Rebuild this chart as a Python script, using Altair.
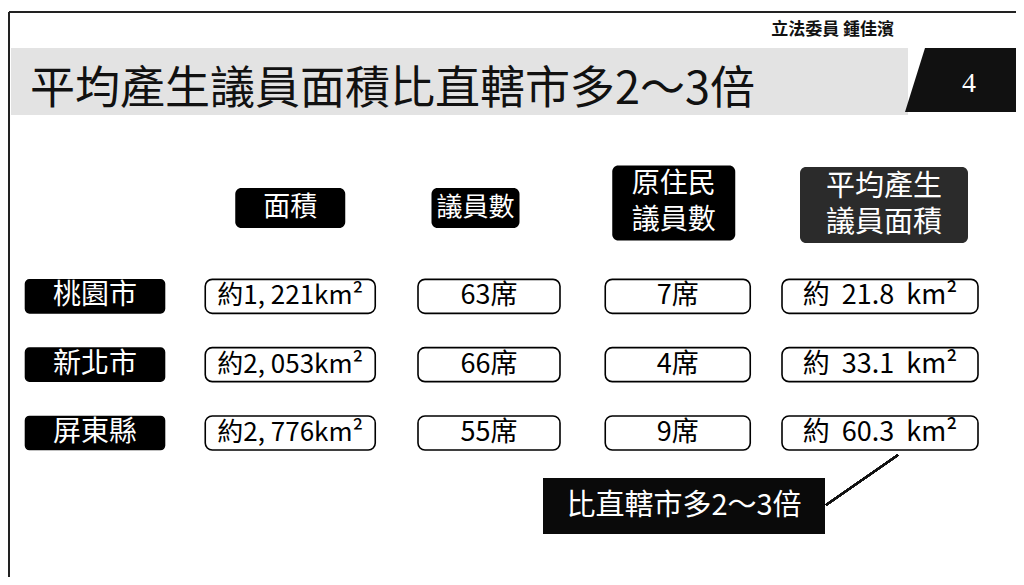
import altair as alt
import pandas as pd

# ---------------- data ----------------
cities = ["桃園市", "新北市", "屏東縣"]
area_km2 = [1221, 2053, 2776]
seats = [63, 66, 55]
indigenous_seats = [7, 4, 9]
area_per_seat = [21.8, 33.1, 60.3]

col_keys = ["city", "area", "seats", "indig", "per"]
header_keys = ["area", "seats", "indig", "per"]
header_texts = ["面積", "議員數", "原住民\n議員數", "平均產生\n議員面積"]

title_text = "平均產生議員面積比直轄市多2～3倍"
author_text = "立法委員 鍾佳濱"
page_no = "4"
callout_text = "比直轄市多2～3倍"

row_domain = ["header"] + cities
FONT = "Noto Sans CJK TC"
NB = "\u00a0"

# ---------------- table ----------------
recs = []
for i, c in enumerate(cities):
    recs.append({"row": c, "col": "city", "label": c})
    recs.append({"row": c, "col": "area", "label": f"約{area_km2[i]:,}km²".replace(",", ", ")})
    recs.append({"row": c, "col": "seats", "label": f"{seats[i]}席"})
    recs.append({"row": c, "col": "indig", "label": f"{indigenous_seats[i]}席"})
    recs.append({"row": c, "col": "per", "label": f"約{NB}{NB}{area_per_seat[i]:.1f}{NB}{NB}km²"})
for k, t in zip(header_keys, header_texts):
    recs.append({"row": "header", "col": k, "label": t})
df = pd.DataFrame(recs)

xs = alt.Scale(type="point", domain=col_keys, range=[87, 872], padding=0)
ys = alt.Scale(type="point", domain=row_domain, range=[220, 425], padding=0)
X = alt.X("col:N", scale=xs, axis=None)
Y = alt.Y("row:N", scale=ys, axis=None)

# style per column (body)
body_style = {
    "city":  dict(w=139, h=33, fill="black", stroke="black", r=4, tc="white", fs=28, dx=0),
    "area":  dict(w=170, h=34, fill="white", stroke="black", r=7, tc="black", fs=26, dx=-1),
    "seats": dict(w=142, h=34, fill="white", stroke="black", r=7, tc="black", fs=27, dx=1.5),
    "indig": dict(w=145, h=34, fill="white", stroke="black", r=7, tc="black", fs=27, dx=-6),
    "per":   dict(w=196, h=34, fill="white", stroke="black", r=7, tc="black", fs=27, dx=0),
}
head_style = {
    "area":  dict(w=110, h=40, fill="black", fs=27, dx=-1, dy=-20, lines=1),
    "seats": dict(w=88, h=40, fill="black", fs=26, dx=-12, dy=-20, lines=1),
    "indig": dict(w=123, h=75, fill="black", fs=28, dx=-10, dy=-25, lines=2),
    "per":   dict(w=168, h=76, fill="#2b2b2b", fs=29, dx=4, dy=-23, lines=2),
}
LH = 36

layers = []

# frame & title band (decoration)
layers.append(alt.Chart(df).mark_rule(color="#222", strokeWidth=2).encode(
    x=alt.value(1), x2=alt.value(1), y=alt.value(4), y2=alt.value(569)))
layers.append(alt.Chart(df).mark_rule(color="#222", strokeWidth=2).encode(
    x=alt.value(1), x2=alt.value(1008), y=alt.value(4), y2=alt.value(4)))
layers.append(alt.Chart(df).mark_rect(color="#e3e3e3").encode(
    x=alt.value(3), x2=alt.value(900), y=alt.value(40), y2=alt.value(107)))
layers.append(alt.Chart(pd.DataFrame({"t": [title_text]})).mark_text(
    font=FONT, fontSize=45, align="left", baseline="middle", color="#111").encode(
    x=alt.value(22), y=alt.value(82), text="t:N"))
layers.append(alt.Chart(pd.DataFrame({"t": [author_text]})).mark_text(
    font=FONT, fontSize=17, fontWeight="bold", align="right", baseline="middle", color="#111").encode(
    x=alt.value(886), y=alt.value(22), text="t:N"))
layers.append(alt.Chart(pd.DataFrame({"t": [page_no]})).mark_point(
    shape="M-0.664,-0.538L1,-0.538L1,0.538L-1,0.538Z", filled=True, opacity=1,
    color="#111", size=14161).encode(x=alt.value(956.5), y=alt.value(72)))
layers.append(alt.Chart(pd.DataFrame({"t": [page_no]})).mark_text(
    font="Liberation Serif", fontSize=28, align="center", baseline="middle", color="white").encode(
    x=alt.value(961), y=alt.value(76), text="t:N"))

# table body
for k, s in body_style.items():
    sub = df[(df["col"] == k) & (df["row"] != "header")]
    base = alt.Chart(sub)
    layers.append(base.mark_rect(width=s["w"], height=s["h"], fill=s["fill"], stroke=s["stroke"],
                                 strokeWidth=1.6, cornerRadius=s["r"], xOffset=s["dx"]).encode(x=X, y=Y))
    layers.append(base.mark_text(font=FONT, fontSize=s["fs"], color=s["tc"], align="center",
                                 baseline="middle", xOffset=s["dx"]).encode(x=X, y=Y, text="label:N"))

# headers
for k, s in head_style.items():
    sub = df[(df["col"] == k) & (df["row"] == "header")]
    base = alt.Chart(sub)
    layers.append(base.mark_rect(width=s["w"], height=s["h"], fill=s["fill"], cornerRadius=6,
                                 xOffset=s["dx"], yOffset=s["dy"]).encode(x=X, y=Y))
    text_dy = s["dy"] - (s["lines"] - 1) * LH / 2
    layers.append(base.mark_text(font=FONT, fontSize=s["fs"], color="white", align="center",
                                 baseline="middle", lineBreak="\n", lineHeight=LH,
                                 xOffset=s["dx"], yOffset=text_dy).encode(x=X, y=Y, text="label:N"))

# callout
layers.append(alt.Chart(df).mark_rule(color="#111", strokeWidth=1.8).encode(
    x=alt.value(818), y=alt.value(497), x2=alt.value(890), y2=alt.value(447)))
layers.append(alt.Chart(df).mark_rect(color="#0a0a0a").encode(
    x=alt.value(535), x2=alt.value(817), y=alt.value(470), y2=alt.value(526)))
layers.append(alt.Chart(pd.DataFrame({"t": [callout_text]})).mark_text(
    font=FONT, fontSize=29, align="center", baseline="middle", color="white").encode(
    x=alt.value(676), y=alt.value(498), text="t:N"))

chart = alt.layer(*layers).properties(
    width=1008, height=569, autosize=alt.AutoSizeParams(type="none"), padding=0,
    background="white"
).configure_view(stroke=None)

chart.save("out.html", embed_options={"renderer": "svg", "actions": False})
